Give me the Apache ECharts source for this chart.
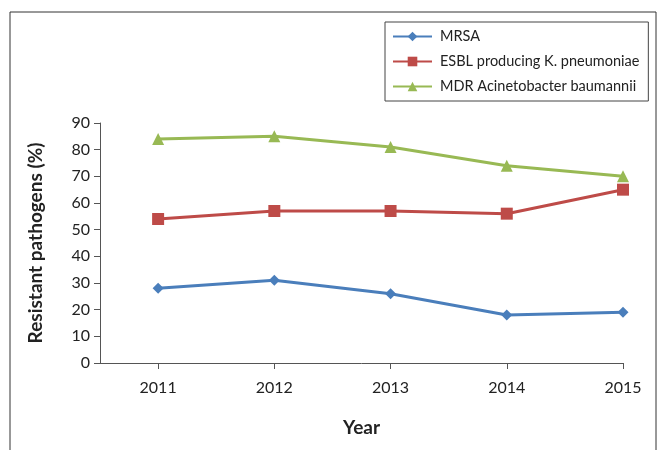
<!DOCTYPE html>
<html>
<head>
<meta charset="utf-8">
<script src="https://cdn.jsdelivr.net/npm/echarts@6/dist/echarts.min.js"></script>
<style>
  html, body { margin: 0; padding: 0; background: #fff; }
  #main { width: 660px; height: 450px; }
</style>
</head>
<body>
<div id="main"></div>
<script>
    var years = [2011, 2012, 2013, 2014, 2015];
    var mrsa = [28, 31, 26, 18, 19];
    var esbl = [54, 57, 57, 56, 65];
    var mdr = [84, 85, 81, 74, 70];
    var names = ['MRSA', 'ESBL producing K. pneumoniae', 'MDR Acinetobacter baumannii'];

    function pairs(vals) {
        return years.map(function (y, i) { return [y, vals[i]]; });
    }

    var font = 'Lato, "Open Sans", sans-serif';
    var myChart = echarts.init(document.getElementById('main'));
    var option = {
        animation: false,
        textStyle: { fontFamily: font },
        graphic: [
            // outer frame (left, top, right)
            { type: 'polyline', shape: { points: [[10, 450], [10, 12], [656, 12], [656, 450]] },
              style: { stroke: '#333', lineWidth: 1, fill: null } }
        ],
        grid: { left: 100, right: 37, top: 123, bottom: 87 },
        legend: {
            orient: 'vertical',
            left: 385,
            top: 22,
            padding: [7, 9, 7, 7],
            itemGap: 10,
            itemWidth: 39,
            itemHeight: 12,
            borderColor: '#444',
            borderWidth: 1,
            textStyle: { fontFamily: font, fontSize: 14.5, color: '#222', padding: [0, 0, 0, 3] },
            data: names
        },
        xAxis: {
            type: 'value',
            min: 2010.5,
            max: 2015,
            name: 'Year',
            nameLocation: 'middle',
            nameGap: 55,
            nameTextStyle: { fontFamily: font, fontSize: 19, fontWeight: 'bold', color: '#222' },
            splitLine: { show: false },
            axisLine: { lineStyle: { color: '#555', width: 1 } },
            axisTick: { show: true, customValues: years, length: 6, lineStyle: { color: '#555' } },
            axisLabel: {
                customValues: years,
                margin: 17,
                fontSize: 16,
                color: '#222',
                formatter: function (v) { return String(v); }
            }
        },
        yAxis: {
            type: 'value',
            min: 0,
            max: 90,
            interval: 10,
            name: 'Resistant pathogens (%)',
            nameLocation: 'middle',
            nameGap: 55,
            nameTextStyle: { fontFamily: font, fontSize: 19, fontWeight: 'bold', color: '#222' },
            splitLine: { show: false },
            axisLine: { show: true, lineStyle: { color: '#555', width: 1 } },
            axisTick: { show: true, length: 6, lineStyle: { color: '#555' } },
            axisLabel: { fontSize: 16, color: '#222', margin: 10 }
        },
        series: [
            {
                name: names[0], type: 'line', data: pairs(mrsa),
                symbol: 'diamond', symbolSize: 11,
                lineStyle: { width: 3, color: '#4A7EBB' },
                itemStyle: { color: '#4A7EBB' }
            },
            {
                name: names[1], type: 'line', data: pairs(esbl),
                symbol: 'rect', symbolSize: 12,
                lineStyle: { width: 3, color: '#BE4B48' },
                itemStyle: { color: '#BE4B48' }
            },
            {
                name: names[2], type: 'line', data: pairs(mdr),
                symbol: 'triangle', symbolSize: 12,
                lineStyle: { width: 3, color: '#98B954' },
                itemStyle: { color: '#98B954' }
            }
        ]
    };
    myChart.setOption(option);
</script>
</body>
</html>
